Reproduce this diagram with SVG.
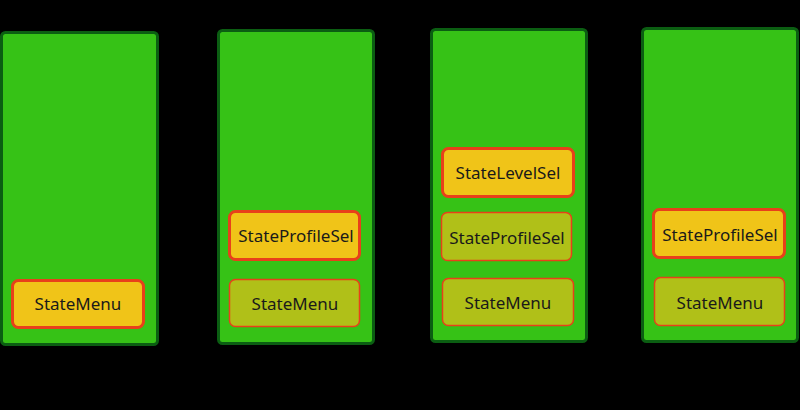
<svg xmlns="http://www.w3.org/2000/svg" width="800" height="410" viewBox="0 0 800 410">
<style>
.col{fill:#36c216;stroke:#0b5e12;stroke-width:3}
.act{fill:#f0c418;stroke:#e8401a;stroke-width:3}
.inact{fill:#b0c018;stroke:#e8401a;stroke-width:1.5}
.t{font-family:"Noto Sans","DejaVu Sans",sans-serif;font-size:17px;fill:#1a1a1a;text-anchor:middle}
</style>
<rect width="800" height="410" fill="#000"/>
<g id="stack1">
<rect class="col" x="1.5" y="32.5" width="156" height="312" rx="4"/>
</g>
<g id="stack1-menu">
<rect class="act" x="12.5" y="280.5" width="131" height="47" rx="6"/>
<text class="t" x="78" y="310">StateMenu</text>
</g>
<g id="stack2">
<rect class="col" x="218.5" y="30.5" width="155" height="313" rx="4"/>
</g>
<g id="stack2-profile">
<rect class="act" x="229.5" y="211.5" width="130" height="48" rx="6"/>
<text class="t" x="296" y="242">StateProfileSel</text>
</g>
<g id="stack2-menu">
<rect class="inact" x="229.5" y="279.5" width="130" height="47" rx="6"/>
<text class="t" x="295" y="310">StateMenu</text>
</g>
<g id="stack3">
<rect class="col" x="431.5" y="29.5" width="155" height="312" rx="4"/>
</g>
<g id="stack3-level">
<rect class="act" x="442.5" y="148.5" width="131" height="48" rx="6"/>
<text class="t" x="508" y="179">StateLevelSel</text>
</g>
<g id="stack3-profile">
<rect class="inact" x="441.5" y="212.5" width="130" height="48" rx="6"/>
<text class="t" x="507" y="244">StateProfileSel</text>
</g>
<g id="stack3-menu">
<rect class="inact" x="442.5" y="278.5" width="131" height="47" rx="6"/>
<text class="t" x="508" y="309">StateMenu</text>
</g>
<g id="stack4">
<rect class="col" x="642.5" y="28.5" width="155" height="313" rx="4"/>
</g>
<g id="stack4-profile">
<rect class="act" x="653.5" y="209.5" width="131" height="48" rx="6"/>
<text class="t" x="720" y="241">StateProfileSel</text>
</g>
<g id="stack4-menu">
<rect class="inact" x="654.5" y="277.5" width="130" height="48" rx="6"/>
<text class="t" x="720" y="309">StateMenu</text>
</g>
<g id="connectors"></g>
</svg>
